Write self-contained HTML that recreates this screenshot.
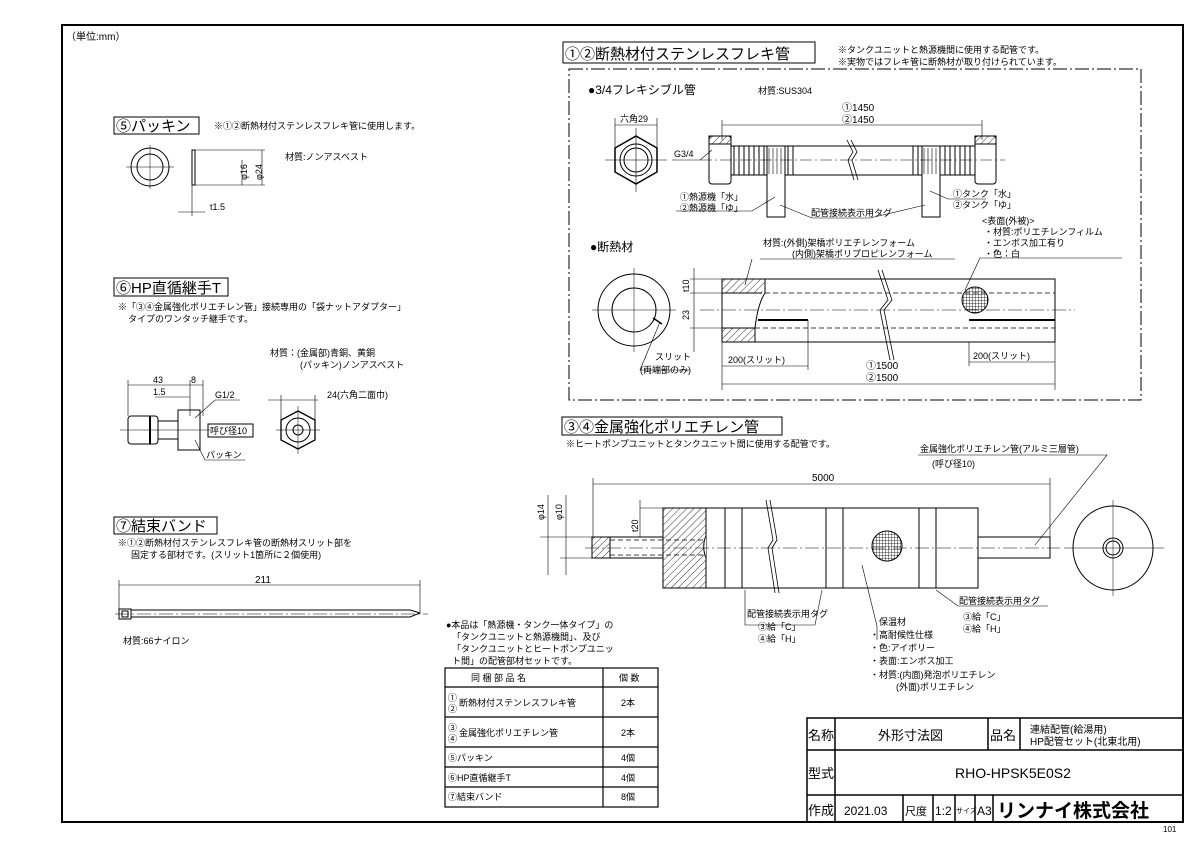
<!DOCTYPE html>
<html><head><meta charset="utf-8"><style>
html,body{margin:0;padding:0;background:#fff}
svg{display:block}
text{font-family:"Liberation Sans","Noto Sans CJK JP",sans-serif;fill:#000}
.s{font-size:9px}
.m{font-size:10px}
.t{font-size:15px}
</style></head><body>
<svg width="1200" height="849" viewBox="0 0 1200 849" xmlns="http://www.w3.org/2000/svg">
<defs>
<pattern id="h" width="5" height="5" patternUnits="userSpaceOnUse" patternTransform="rotate(45)"><line x1="0" y1="0" x2="0" y2="5" stroke="#000" stroke-width="0.8"/></pattern>
<pattern id="mesh" width="3" height="3" patternUnits="userSpaceOnUse"><path d="M0 0H3M0 0V3" stroke="#000" stroke-width="0.8"/></pattern>
</defs>
<g fill="none" stroke="#000">
<rect x="62" y="25" width="1121" height="797" stroke-width="2"/>
</g>
<text x="66" y="40" class="m">（単位:mm）</text>

<!-- Section 1 -->
<rect x="563" y="42" width="252" height="21" fill="none" stroke="#000"/>
<text x="565" y="59" class="t">①②断熱材付ステンレスフレキ管</text>
<text x="838" y="53" class="s">※タンクユニットと熱源機間に使用する配管です。</text>
<text x="838" y="65" class="s">※実物ではフレキ管に断熱材が取り付けられています。</text>
<rect x="569" y="69" width="572" height="331" fill="none" stroke="#000" stroke-dasharray="14 3 2 3"/>
<text x="588" y="94" style="font-size:12px">●3/4フレキシブル管</text>
<text x="758" y="94" class="s">材質:SUS304</text>
<g fill="none" stroke="#000">
<polygon points="636,136 657,148 657,172 636,184 615,172 615,148" stroke-width="1.5"/>
<circle cx="636" cy="160" r="16"/><circle cx="636" cy="160" r="12"/>
<line x1="605" y1="160" x2="667" y2="160" stroke-width="0.6"/>
<line x1="636" y1="128" x2="636" y2="192" stroke-width="0.6"/>
<line x1="615" y1="125" x2="657" y2="125" stroke-width="0.6"/>
<line x1="615" y1="118" x2="615" y2="148" stroke-width="0.6"/><line x1="657" y1="118" x2="657" y2="148" stroke-width="0.6"/>
<!-- flex pipe -->
<rect x="709" y="136" width="22" height="48" rx="3"/>
<rect x="975" y="136" width="21" height="48" rx="3"/>
<rect x="709" y="136" width="22" height="8" fill="url(#h)"/>
<rect x="975" y="136" width="21" height="8" fill="url(#h)"/>
<line x1="731" y1="146" x2="975" y2="146"/><line x1="731" y1="175" x2="975" y2="175"/>
<path d="M734 146v29M739 146v29M744 146v29M749 146v29M754 146v29M759 146v29M764 146v29M788 146v29M793 146v29M913 146v29M918 146v29M945 146v29M950 146v29M955 146v29M960 146v29M965 146v29M970 146v29"/>
<path d="M847 140l6 12-5 8 6 20" stroke-width="0.8"/><path d="M851 140l6 12-5 8 6 20" stroke-width="0.8"/>
<rect x="767" y="146" width="18" height="71" fill="#fff"/>
<rect x="922" y="146" width="18" height="71" fill="#fff"/>
<path d="M769 148v26M773 148v26M777 148v26M781 148v26M924 148v26M928 148v26M932 148v26M936 148v26" stroke-width="0.6"/>
<line x1="700" y1="160" x2="1005" y2="160" stroke-width="0.5" stroke-dasharray="12 3 2 3"/>
<line x1="722" y1="125" x2="982" y2="125" stroke-width="0.6"/>
<line x1="722" y1="120" x2="722" y2="140" stroke-width="0.6"/><line x1="982" y1="120" x2="982" y2="140" stroke-width="0.6"/>
<path d="M672 160H700L712 150" stroke-width="0.6"/>
<path d="M676 211H752L775 197" stroke-width="0.6"/>
<path d="M812 218H870L925 205" stroke-width="0.6"/><path d="M812 218L780 205" stroke-width="0.6"/>
<path d="M986 199H948L930 191" stroke-width="0.6"/>
</g>
<text x="620" y="122" class="s">六角29</text>
<text x="674" y="157" class="s">G3/4</text>
<text x="842" y="111" class="m">①1450</text>
<text x="842" y="123" class="m">②1450</text>
<text x="680" y="200" class="s">①熱源機「水」</text>
<text x="680" y="211" class="s">②熱源機「ゆ」</text>
<text x="953" y="197" class="s">①タンク「水」</text>
<text x="953" y="208" class="s">②タンク「ゆ」</text>
<text x="811" y="216" class="s">配管接続表示用タグ</text>
<text x="982" y="224" class="s">&lt;表面(外被)&gt;</text>
<text x="984" y="235" class="s">・材質:ポリエチレンフィルム</text>
<text x="984" y="246" class="s">・エンボス加工有り</text>
<text x="984" y="257" class="s">・色：白</text>
<text x="590" y="251" style="font-size:12px">●断熱材</text>
<text x="763" y="246" class="s">材質:(外側)架橋ポリエチレンフォーム</text>
<text x="792" y="257" class="s">(内側)架橋ポリプロピレンフォーム</text>
<g fill="none" stroke="#000">
<path d="M760 259H955M752 259L745 285" stroke-width="0.6"/>
<path d="M980 258H1122M980 258L965 290" stroke-width="0.6"/>
<circle cx="634" cy="310" r="36"/><circle cx="634" cy="310" r="22"/>
<line x1="592" y1="310" x2="676" y2="310" stroke-width="0.5"/><line x1="634" y1="268" x2="634" y2="352" stroke-width="0.5"/>
<path d="M653 318L662 324" stroke-width="1.5"/>
<path d="M660 322L640 370H690" stroke-width="0.6"/>
<rect x="722" y="279" width="333" height="63"/>
<rect x="722" y="279" width="43" height="14" fill="url(#h)"/>
<rect x="722" y="328" width="33" height="14" fill="url(#h)"/>
<line x1="765" y1="293" x2="1055" y2="293" stroke-dasharray="5 3" stroke-width="0.7"/>
<line x1="755" y1="328" x2="1055" y2="328" stroke-dasharray="5 3" stroke-width="0.7"/>
<line x1="700" y1="310" x2="1075" y2="310" stroke-dasharray="14 3 2 3" stroke-width="0.5"/>
<line x1="758" y1="320" x2="808" y2="320" stroke-width="2"/>
<line x1="969" y1="320" x2="1055" y2="320" stroke-width="2"/>
<path d="M765 279v14c-4 6-8 18-10 35" fill="#fff"/>
<path d="M878 270l10 30-8 10 10 50" stroke-width="0.8"/><path d="M882 270l10 30-8 10 10 50" stroke-width="0.8"/>
<circle cx="975" cy="300" r="13" fill="url(#mesh)"/>
<path d="M694 268V352M690 279H722M690 293H722M690 328H722" stroke-width="0.6"/>
<path d="M722 342V390M808 320V370M969 342V366M1055 342V390" stroke-width="0.6"/>
<line x1="722" y1="366" x2="808" y2="366" stroke-width="0.6"/>
<line x1="969" y1="362" x2="1055" y2="362" stroke-width="0.6"/>
<line x1="722" y1="384" x2="1055" y2="384" stroke-width="0.6"/>
</g>
<text x="689" y="292" class="s" transform="rotate(-90 689 292)">t10</text>
<text x="689" y="320" class="s" transform="rotate(-90 689 320)">23</text>
<text x="728" y="363" class="s">200(スリット)</text>
<text x="973" y="359" class="s">200(スリット)</text>
<text x="866" y="369" class="m">①1500</text>
<text x="866" y="381" class="m">②1500</text>
<text x="655" y="360" class="s">スリット</text>
<text x="640" y="373" class="s">(両端部のみ)</text>

<!-- Section 2 -->
<rect x="562" y="417" width="220" height="18" fill="none" stroke="#000"/>
<text x="564" y="432" class="t">③④金属強化ポリエチレン管</text>
<text x="566" y="447" class="s">※ヒートポンプユニットとタンクユニット間に使用する配管です。</text>
<text x="920" y="452" class="s">金属強化ポリエチレン管(アルミ三層管)</text>
<text x="932" y="467" class="s">(呼び径10)</text>
<text x="812" y="481" class="m">5000</text>
<g fill="none" stroke="#000">
<path d="M918 455H1107L1035 545" stroke-width="0.6"/>
<line x1="593" y1="484" x2="1050" y2="484" stroke-width="0.6"/>
<path d="M593 478V537M1050 478V537" stroke-width="0.6"/>
<rect x="663" y="508" width="315" height="80"/>
<rect x="663" y="508" width="43" height="80" fill="url(#h)"/>
<path d="M706 508V536c-3 6-3 15 0 22V588" fill="#fff"/>
<rect x="592" y="537" width="71" height="21"/>
<rect x="592" y="537" width="18" height="21" fill="url(#h)"/>
<line x1="610" y1="540" x2="706" y2="540" stroke-dasharray="5 3" stroke-width="0.7"/>
<line x1="610" y1="555" x2="706" y2="555" stroke-dasharray="5 3" stroke-width="0.7"/>
<rect x="978" y="537" width="72" height="21"/>
<rect x="725" y="508" width="17" height="80"/><rect x="826" y="508" width="17" height="80"/><rect x="919" y="508" width="17" height="80"/>
<path d="M766 500l7 40-5 8 7 45" stroke-width="0.8"/><path d="M770 500l7 40-5 8 7 45" stroke-width="0.8"/>
<circle cx="887" cy="546" r="15" fill="url(#mesh)"/>
<line x1="585" y1="548" x2="1060" y2="548" stroke-dasharray="14 3 2 3" stroke-width="0.5"/>
<ellipse cx="1113" cy="548" rx="40" ry="42"/>
<circle cx="1113" cy="548" r="10"/><circle cx="1113" cy="548" r="7"/>
<line x1="1064" y1="548" x2="1164" y2="548" stroke-width="0.5"/><line x1="1113" y1="500" x2="1113" y2="596" stroke-width="0.5"/>
<path d="M548 495V575M566 495V575M540 537H592M560 558H592M640 508H663M640 537H663M640 500V537" stroke-width="0.6"/>
<path d="M745 590V625H815L822 590" stroke-width="0.6"/>
<path d="M877 640V626L862 565" stroke-width="0.6"/>
<path d="M1048 606H958L936 590" stroke-width="0.6"/>
</g>
<text x="544" y="520" class="s" transform="rotate(-90 544 520)">φ14</text>
<text x="562" y="520" class="s" transform="rotate(-90 562 520)">φ10</text>
<text x="638" y="532" class="s" transform="rotate(-90 638 532)">t20</text>
<text x="747" y="617" class="s">配管接続表示用タグ</text>
<text x="758" y="630" class="s">③給「C」</text>
<text x="758" y="642" class="s">④給「H」</text>
<text x="879" y="625" class="s">保温材</text>
<text x="870" y="638" class="s">・高耐候性仕様</text>
<text x="870" y="651" class="s">・色:アイボリー</text>
<text x="870" y="664" class="s">・表面:エンボス加工</text>
<text x="870" y="678" class="s">・材質:(内面)発泡ポリエチレン</text>
<text x="896" y="690" class="s">(外面)ポリエチレン</text>
<text x="959" y="604" class="s">配管接続表示用タグ</text>
<text x="963" y="620" class="s">③給「C」</text>
<text x="963" y="632" class="s">④給「H」</text>

<!-- ⑤ -->
<rect x="114" y="117" width="85" height="17" fill="none" stroke="#000"/>
<text x="116" y="131" class="t">⑤パッキン</text>
<text x="214" y="129" class="s">※①②断熱材付ステンレスフレキ管に使用します。</text>
<text x="285" y="160" class="s">材質:ノンアスベスト</text>
<g fill="none" stroke="#000">
<circle cx="150" cy="167" r="19"/><circle cx="150" cy="167" r="13"/>
<path d="M126 167H174M150 145V189" stroke-width="0.5"/>
<rect x="192" y="150" width="3" height="35"/>
<path d="M195 150H265M195 185H265M242 160V185M262 150V185M192 185V216M178 212H205" stroke-width="0.6"/>
</g>
<text x="247" y="180" class="s" transform="rotate(-90 247 180)">φ16</text>
<text x="262" y="180" class="s" transform="rotate(-90 262 180)">φ24</text>
<text x="210" y="210" class="s">t1.5</text>

<!-- ⑥ -->
<rect x="114" y="278" width="114" height="18" fill="none" stroke="#000"/>
<text x="116" y="293" class="t">⑥HP直循継手T</text>
<text x="118" y="310" class="s">※「③④金属強化ポリエチレン管」接続専用の「袋ナットアダプター」</text>
<text x="128" y="322" class="s">タイプのワンタッチ継手です。</text>
<text x="270" y="356" class="s">材質：(金属部)青銅、黄銅</text>
<text x="300" y="368" class="s">(パッキン)ノンアスベスト</text>
<g fill="none" stroke="#000">
<rect x="128" y="416" width="30" height="28" rx="3"/>
<path d="M150 416V444" stroke-width="2"/>
<rect x="158" y="421" width="20" height="18"/>
<rect x="178" y="410" width="22" height="40"/>
<path d="M120 430H210" stroke-width="0.5"/>
<path d="M128 385H203M128 380V416M190 380V416M203 380V416M155 397H190" stroke-width="0.6"/>
<path d="M195 418L215 400H240M195 440L205 460H245" stroke-width="0.6"/>
<rect x="208" y="424" width="45" height="13"/>
<polygon points="298,411 315,420 315,440 298,449 281,440 281,420" stroke-width="1.3"/>
<circle cx="298" cy="430" r="12"/><circle cx="298" cy="430" r="5"/>
<path d="M276 430H320M298 406V454" stroke-width="0.5"/>
<path d="M268 400H318M281 395V420M315 395V420" stroke-width="0.6"/>
</g>
<text x="153" y="383" class="s">43</text>
<text x="191" y="383" class="s">8</text>
<text x="153" y="395" class="s">1.5</text>
<text x="215" y="398" class="s">G1/2</text>
<text x="210" y="434" class="s">呼び径10</text>
<text x="206" y="458" class="s">パッキン</text>
<text x="327" y="398" class="s">24(六角二面巾)</text>

<!-- ⑦ -->
<rect x="114" y="517" width="103" height="17" fill="none" stroke="#000"/>
<text x="116" y="531" class="t">⑦結束バンド</text>
<text x="118" y="546" class="s">※①②断熱材付ステンレスフレキ管の断熱材スリット部を</text>
<text x="131" y="558" class="s">固定する部材です。(スリット1箇所に２個使用)</text>
<text x="255" y="583" class="m">211</text>
<g fill="none" stroke="#000">
<path d="M119 585H420M119 580V612M420 580V612" stroke-width="0.6"/>
<rect x="119" y="609" width="12" height="10"/><rect x="122" y="611" width="6" height="6"/>
<path d="M131 610H410L420 613L410 617H131"/>
<path d="M115 614H428" stroke-width="0.5" stroke-dasharray="14 3 2 3"/>
</g>
<text x="123" y="644" class="s">材質:66ナイロン</text>

<!-- Table -->
<text x="446" y="628" class="s">●本品は「熱源機・タンク一体タイプ」の</text>
<text x="452" y="640" class="s">「タンクユニットと熱源機間」、及び</text>
<text x="452" y="652" class="s">「タンクユニットとヒートポンプユニッ</text>
<text x="452" y="664" class="s">ト間」の配管部材セットです。</text>
<g fill="none" stroke="#000" stroke-width="1.2">
<rect x="445" y="668" width="213" height="139"/>
<path d="M445 687H658M445 717H658M445 747H658M445 767H658M445 787H658M603 668V807"/>
</g>
<text x="471" y="681" class="s">同 梱 部 品 名</text><text x="619" y="681" class="s">個 数</text>
<text x="448" y="701" class="s">①</text><text x="448" y="712" class="s">②</text><text x="459" y="706" class="s">断熱材付ステンレスフレキ管</text><text x="621" y="706" class="s">2本</text>
<text x="448" y="731" class="s">③</text><text x="448" y="742" class="s">④</text><text x="459" y="736" class="s">金属強化ポリエチレン管</text><text x="621" y="736" class="s">2本</text>
<text x="448" y="761" class="s">⑤パッキン</text><text x="621" y="761" class="s">4個</text>
<text x="448" y="781" class="s">⑥HP直循継手T</text><text x="621" y="781" class="s">4個</text>
<text x="448" y="800" class="s">⑦結束バンド</text><text x="621" y="800" class="s">8個</text>

<!-- Title block -->
<g fill="none" stroke="#000" stroke-width="1.5">
<rect x="807" y="718" width="376" height="104"/>
<path d="M807 750H1183M807 795H1183M835 718V822M988 718V750M1020 718V750M903 795V822M933 795V822M955 795V822M975 795V822M993 795V822"/>
</g>
<text x="808" y="740" style="font-size:13px">名称</text>
<text x="878" y="740" style="font-size:13px">外形寸法図</text>
<text x="990" y="740" style="font-size:13px">品名</text>
<text x="1030" y="733" class="m">連結配管(給湯用)</text>
<text x="1030" y="745" class="m">HP配管セット(北東北用)</text>
<text x="808" y="778" style="font-size:13px">型式</text>
<text x="955" y="778" style="font-size:14px">RHO-HPSK5E0S2</text>
<text x="808" y="815" style="font-size:13px">作成</text>
<text x="844" y="815" style="font-size:12px">2021.03</text>
<text x="905" y="815" style="font-size:11px">尺度</text>
<text x="935" y="815" style="font-size:12px">1:2</text>
<text x="956" y="813" style="font-size:7px">サイズ</text>
<text x="977" y="815" style="font-size:12px">A3</text>
<text x="997" y="817" style="font-size:19px;font-weight:bold">リンナイ株式会社</text>
<text x="1163" y="832" style="font-size:8px">101</text>
</svg>
</body></html>
